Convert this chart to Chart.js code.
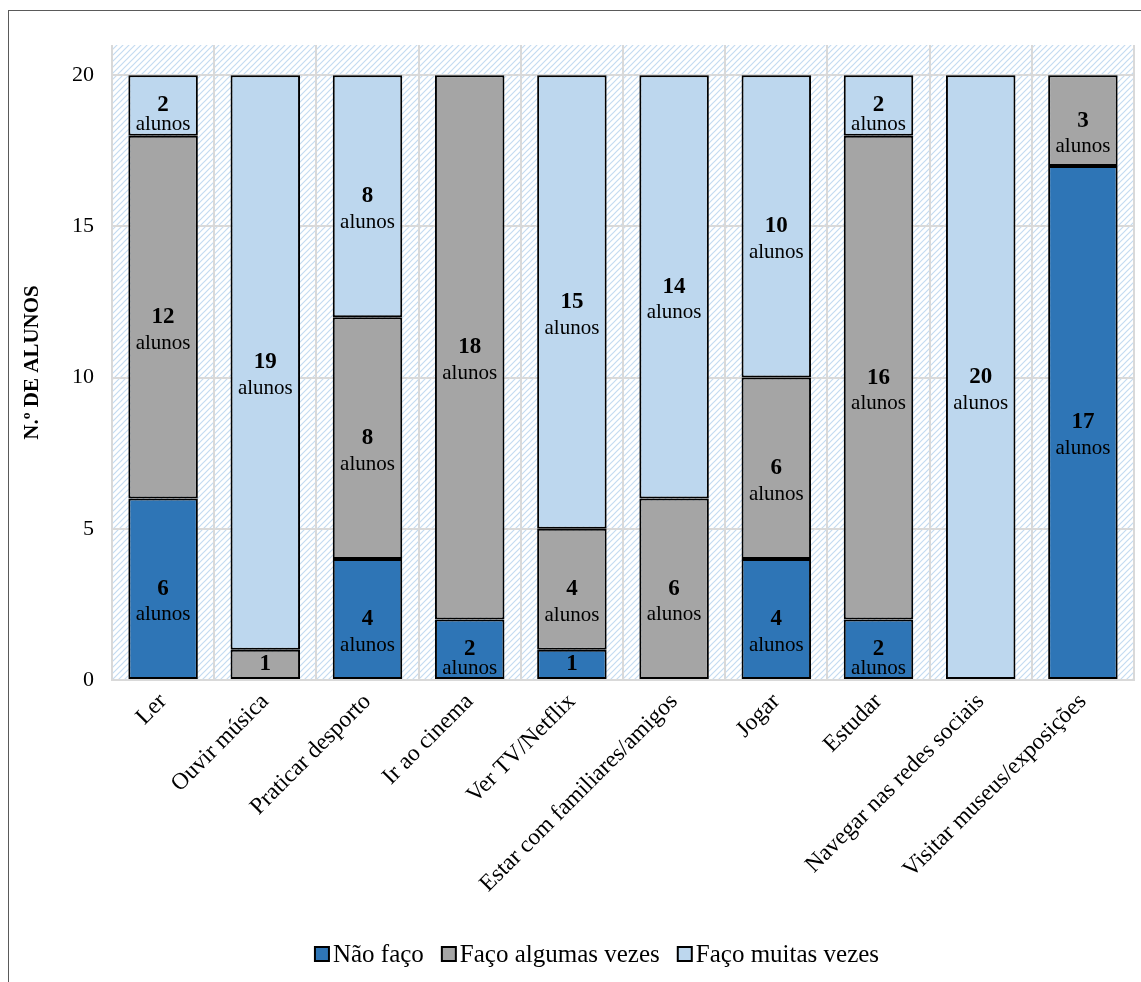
<!DOCTYPE html>
<html>
<head>
<meta charset="utf-8">
<script src="https://cdn.jsdelivr.net/npm/chart.js@4"></script>
<style>
  html, body { margin: 0; padding: 0; background: #fff; overflow: hidden; }
  #wrap { position: absolute; left: 0; top: 0; width: 1141px; height: 982px; }
  #frame { position: absolute; left: 8px; top: 10px; width: 1200px; height: 1100px;
           border: 1.5px solid #5a5a5a; pointer-events: none; }
</style>
</head>
<body>
<div id="wrap"><canvas id="chart" width="1141" height="982"></canvas></div>
<div id="frame"></div>
<script>
// categories and series (number of students)
const categories = ['Ler', 'Ouvir música', 'Praticar desporto', 'Ir ao cinema', 'Ver TV/Netflix',
    'Estar com familiares/amigos', 'Jogar', 'Estudar', 'Navegar nas redes sociais', 'Visitar museus/exposições'];
const naoFaco = [6, 0, 4, 2, 1, 0, 4, 2, 0, 17];
const algumasVezes = [12, 1, 8, 18, 4, 6, 6, 16, 0, 3];
const muitasVezes = [2, 19, 8, 0, 15, 14, 10, 2, 20, 0];
const yTicks = [0, 5, 10, 15, 20];

const SERIF = '"Liberation Serif", "Times New Roman", serif';

// diagonal hatch used behind the plot
function makeHatch() {
    const c = document.createElement('canvas');
    c.width = 6; c.height = 6;
    const g = c.getContext('2d');
    g.strokeStyle = '#c4dbf1';
    g.lineWidth = 1.2;
    g.beginPath();
    g.moveTo(-1, 7); g.lineTo(7, -1);
    g.moveTo(-1, 1); g.lineTo(1, -1);
    g.moveTo(5, 7); g.lineTo(7, 5);
    g.stroke();
    return g.createPattern(c, 'repeat');
}

const hatchBackground = {
    id: 'hatchBackground',
    beforeDraw(chart) {
        const { ctx, chartArea: a } = chart;
        ctx.save();
        ctx.fillStyle = makeHatch();
        ctx.fillRect(a.left, a.top, a.right - a.left, a.bottom - a.top);
        ctx.restore();
    }
};

// "N alunos" labels inside each segment
const segmentLabels = {
    id: 'segmentLabels',
    afterDatasetsDraw(chart) {
        const ctx = chart.ctx;
        ctx.save();
        ctx.textAlign = 'center';
        ctx.textBaseline = 'middle';
        ctx.fillStyle = '#000';
        chart.data.datasets.forEach((ds, i) => {
            chart.getDatasetMeta(i).data.forEach((bar, j) => {
                const v = ds.data[j];
                if (!v) return;
                const yc = (bar.y + bar.base) / 2;
                ctx.font = 'bold 23px ' + SERIF;
                ctx.fillText(String(v), bar.x, yc);
                if (v > 1) {
                    ctx.font = '21px ' + SERIF;
                    ctx.fillText('alunos', bar.x, yc + (v <= 2 ? 19 : 26));
                }
            });
        });
        ctx.restore();
    }
};

// legend drawn by hand: small box right against the text
const compactLegend = {
    id: 'compactLegend',
    afterDraw(chart) {
        const ctx = chart.ctx;
        const box = 14, gap = 4, itemGap = 18, cx = 597, cy = 954;
        ctx.save();
        ctx.font = '25px ' + SERIF;
        const items = chart.data.datasets.map(ds => ({
            text: ds.label, color: ds.backgroundColor, w: ctx.measureText(ds.label).width
        }));
        const total = items.reduce((s, it) => s + box + gap + it.w, 0) + itemGap * (items.length - 1);
        let x = cx - total / 2;
        ctx.textBaseline = 'middle';
        ctx.textAlign = 'left';
        items.forEach(it => {
            ctx.fillStyle = it.color;
            ctx.fillRect(x, cy - box / 2, box, box);
            ctx.lineWidth = 2;
            ctx.strokeStyle = '#000';
            ctx.strokeRect(x, cy - box / 2, box, box);
            ctx.fillStyle = '#000';
            ctx.fillText(it.text, x + box + gap, cy + 1);
            x += box + gap + it.w + itemGap;
        });
        ctx.restore();
    }
};

const barStyle = { borderColor: '#000', borderWidth: 2, borderSkipped: false,
                   barPercentage: 0.68, categoryPercentage: 1.0 };

new Chart(document.getElementById('chart'), {
    type: 'bar',
    data: {
        labels: categories,
        datasets: [
            { label: 'Não faço', data: naoFaco, backgroundColor: '#2e75b6', ...barStyle },
            { label: 'Faço algumas vezes', data: algumasVezes, backgroundColor: '#a5a5a5', ...barStyle },
            { label: 'Faço muitas vezes', data: muitasVezes, backgroundColor: '#bdd7ee', ...barStyle }
        ]
    },
    options: {
        responsive: false,
        animation: false,
        layout: { padding: { left: 10, right: 7, top: 45, bottom: 52 } },
        plugins: {
            tooltip: { enabled: false },
            legend: { display: false }
        },
        scales: {
            x: {
                stacked: true,
                grid: { color: '#d9d9d9', lineWidth: 2, drawTicks: false },
                border: { display: true, color: '#d9d9d9', width: 2 },
                ticks: {
                    font: { family: SERIF, size: 23.5 },
                    color: '#000',
                    minRotation: 45,
                    maxRotation: 45,
                    padding: 8,
                    autoSkip: false
                },
                afterFit(scale) { scale.height = 250; }
            },
            y: {
                stacked: true,
                min: 0,
                max: 21,
                grid: { color: '#d9d9d9', lineWidth: 2, drawTicks: false },
                border: { display: false },
                afterBuildTicks(scale) { scale.ticks = yTicks.map(v => ({ value: v })); },
                ticks: {
                    font: { family: SERIF, size: 22 },
                    color: '#000',
                    padding: 18
                },
                title: {
                    display: true,
                    text: 'N.º DE ALUNOS',
                    font: { family: SERIF, size: 21, weight: 'bold' },
                    color: '#000',
                    padding: { top: 10, bottom: 0 }
                },
                afterFit(scale) { scale.width = 102; }
            }
        }
    },
    plugins: [hatchBackground, segmentLabels, compactLegend]
});
</script>
</body>
</html>
